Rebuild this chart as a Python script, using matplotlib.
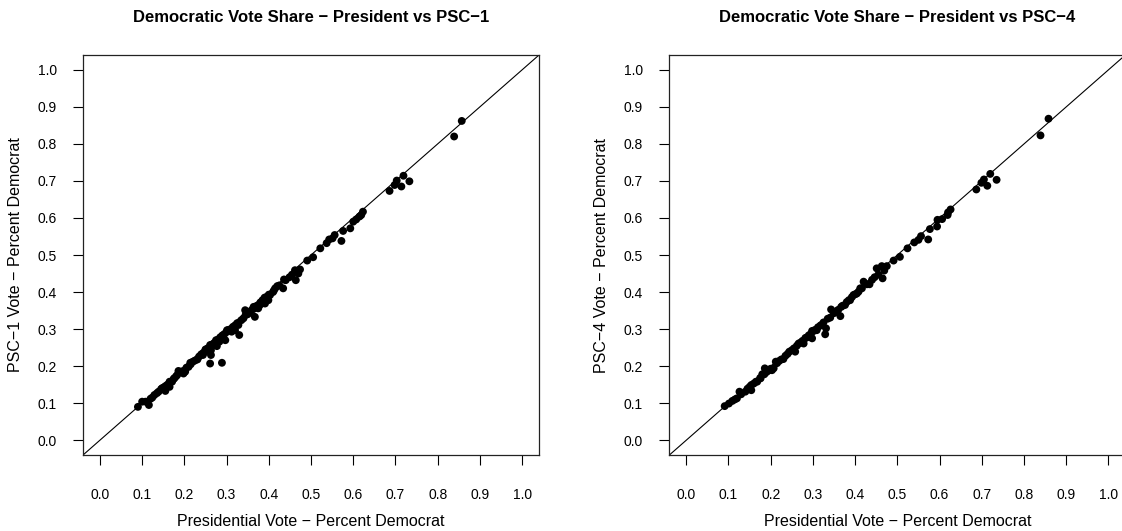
import matplotlib
matplotlib.use("Agg")
import matplotlib.pyplot as plt
import numpy as np

plt.rcParams['font.family'] = ['Liberation Sans', 'DejaVu Sans']

# Presidential vote vs PSC-1 vote (share democrat)
pres_1 = [0.857, 0.839, 0.719, 0.703, 0.698, 0.714, 0.733, 0.686, 0.623, 0.619,
          0.615, 0.607, 0.600, 0.593, 0.576, 0.572, 0.556, 0.551, 0.543, 0.537,
          0.522, 0.505, 0.491, 0.474, 0.462, 0.470, 0.464, 0.449, 0.436, 0.434,
          0.420, 0.412, 0.403, 0.395, 0.399, 0.391, 0.379, 0.375, 0.364, 0.367,
          0.356, 0.344, 0.340, 0.328, 0.330, 0.320, 0.312, 0.301, 0.297, 0.289,
          0.283, 0.277, 0.269, 0.263, 0.261, 0.263, 0.249, 0.244, 0.231, 0.261,
          0.289, 0.214, 0.210, 0.202, 0.198, 0.186, 0.183, 0.176, 0.171, 0.165,
          0.155, 0.147, 0.155, 0.139, 0.129, 0.124, 0.116, 0.108, 0.100, 0.090,
          0.120, 0.135, 0.145, 0.150, 0.160, 0.165, 0.175, 0.180, 0.190, 0.195,
          0.205, 0.215, 0.220, 0.225, 0.235, 0.240, 0.245, 0.250, 0.255, 0.265,
          0.270, 0.275, 0.280, 0.285, 0.290, 0.295, 0.300, 0.305, 0.310, 0.315,
          0.320, 0.325, 0.335, 0.345, 0.350, 0.355, 0.360, 0.365, 0.370, 0.375,
          0.380, 0.385, 0.390, 0.400, 0.410, 0.415, 0.425, 0.440, 0.455]
psc_1 = [0.862, 0.820, 0.714, 0.701, 0.689, 0.685, 0.699, 0.673, 0.617, 0.608,
         0.604, 0.596, 0.590, 0.572, 0.565, 0.538, 0.554, 0.545, 0.542, 0.532,
         0.518, 0.494, 0.485, 0.461, 0.459, 0.450, 0.432, 0.440, 0.434, 0.410,
         0.416, 0.404, 0.392, 0.387, 0.378, 0.369, 0.365, 0.356, 0.360, 0.333,
         0.347, 0.351, 0.329, 0.311, 0.284, 0.297, 0.293, 0.297, 0.270, 0.279,
         0.266, 0.254, 0.257, 0.243, 0.257, 0.230, 0.239, 0.230, 0.218, 0.207,
         0.209, 0.209, 0.198, 0.185, 0.180, 0.187, 0.176, 0.167, 0.158, 0.144,
         0.146, 0.140, 0.133, 0.131, 0.122, 0.115, 0.095, 0.104, 0.104, 0.090,
         0.112, 0.127, 0.138, 0.142, 0.150, 0.158, 0.166, 0.172, 0.183, 0.186,
         0.196, 0.205, 0.212, 0.215, 0.226, 0.232, 0.236, 0.245, 0.248, 0.258,
         0.262, 0.270, 0.272, 0.278, 0.283, 0.287, 0.292, 0.298, 0.300, 0.306,
         0.310, 0.316, 0.324, 0.338, 0.340, 0.345, 0.352, 0.355, 0.362, 0.365,
         0.372, 0.378, 0.385, 0.393, 0.400, 0.410, 0.418, 0.432, 0.447]

# Presidential vote vs PSC-4 vote
pres_4 = [0.858, 0.839, 0.720, 0.705, 0.699, 0.713, 0.735, 0.687, 0.626, 0.620,
          0.619, 0.606, 0.595, 0.594, 0.577, 0.573, 0.556, 0.550, 0.540, 0.524,
          0.506, 0.491, 0.475, 0.463, 0.451, 0.469, 0.465, 0.446, 0.434, 0.420,
          0.412, 0.404, 0.396, 0.388, 0.376, 0.367, 0.365, 0.343, 0.341, 0.329,
          0.331, 0.321, 0.309, 0.298, 0.298, 0.285, 0.278, 0.266, 0.258, 0.244,
          0.230, 0.212, 0.207, 0.203, 0.186, 0.180, 0.176, 0.168, 0.154, 0.154,
          0.140, 0.126, 0.120, 0.109, 0.101, 0.091,
          0.115, 0.130, 0.145, 0.150, 0.160, 0.165, 0.175, 0.185, 0.190, 0.195,
          0.200, 0.215, 0.220, 0.225, 0.235, 0.240, 0.250, 0.255, 0.262, 0.270,
          0.275, 0.282, 0.290, 0.295, 0.302, 0.305, 0.312, 0.318, 0.325, 0.335,
          0.350, 0.355, 0.360, 0.370, 0.380, 0.385, 0.392, 0.400, 0.408, 0.416,
          0.428, 0.440, 0.455]
psc_4 = [0.868, 0.823, 0.719, 0.704, 0.695, 0.687, 0.703, 0.677, 0.623, 0.615,
         0.608, 0.597, 0.595, 0.577, 0.570, 0.542, 0.551, 0.541, 0.534, 0.518,
         0.495, 0.485, 0.470, 0.470, 0.464, 0.458, 0.437, 0.440, 0.421, 0.428,
         0.410, 0.396, 0.392, 0.378, 0.365, 0.360, 0.335, 0.353, 0.331, 0.286,
         0.302, 0.311, 0.297, 0.295, 0.275, 0.277, 0.261, 0.261, 0.239, 0.239,
         0.219, 0.212, 0.194, 0.189, 0.194, 0.178, 0.167, 0.158, 0.149, 0.135,
         0.131, 0.131, 0.113, 0.106, 0.099, 0.092,
         0.110, 0.124, 0.139, 0.144, 0.153, 0.158, 0.168, 0.178, 0.184, 0.188,
         0.193, 0.208, 0.214, 0.218, 0.228, 0.233, 0.243, 0.248, 0.255, 0.263,
         0.268, 0.276, 0.283, 0.287, 0.295, 0.298, 0.305, 0.310, 0.318, 0.328,
         0.343, 0.348, 0.352, 0.363, 0.373, 0.378, 0.386, 0.394, 0.401, 0.410,
         0.421, 0.433, 0.447]

ticks = np.round(np.arange(0, 1.01, 0.1), 1)
tick_labels = [f"{t:.1f}" for t in ticks]

panels = [
    (pres_1, psc_1, "Democratic Vote Share \u2212 President vs PSC\u22121",
     "PSC\u22121 Vote \u2212 Percent Democrat", [0.074, 0.1431, 0.4064, 0.7533], 0.0134),
    (pres_4, psc_4, "Democratic Vote Share \u2212 President vs PSC\u22124",
     "PSC\u22124 Vote \u2212 Percent Democrat", [0.5966, 0.1431, 0.4064, 0.7533], 0.5357),
]

fig = plt.figure(figsize=(11.22, 5.31), dpi=100)

for x, y, title, ylabel, pos, ylab_x in panels:
    ax = fig.add_axes(pos)
    ax.set_xlim(-0.04, 1.04)
    ax.set_ylim(-0.04, 1.04)
    ax.plot([-0.04, 1.04], [-0.04, 1.04], color='black', lw=0.8)
    ax.scatter(x, y, s=32, color='black', edgecolors='none', zorder=3)
    ax.set_xticks(ticks)
    ax.set_xticklabels(tick_labels)
    ax.set_yticks(ticks)
    ax.set_yticklabels(tick_labels)
    ax.tick_params(direction='out', length=7, width=0.8, labelsize=10)
    ax.tick_params(axis='x', pad=17)
    ax.tick_params(axis='y', pad=12)
    for sp in ax.spines.values():
        sp.set_linewidth(0.9)
        sp.set_color('#222222')
    cx = pos[0] + pos[2] / 2
    fig.text(cx, 1 - 18 / 531, title, ha='center', va='center',
             fontsize=12, fontweight='bold')
    fig.text(cx, 1 - 521 / 531, "Presidential Vote \u2212 Percent Democrat",
             ha='center', va='center', fontsize=11.5)
    fig.text(ylab_x, pos[1] + pos[3] / 2, ylabel, ha='center', va='center',
             rotation=90, fontsize=11.5)

fig.savefig("out.png", dpi=100)
